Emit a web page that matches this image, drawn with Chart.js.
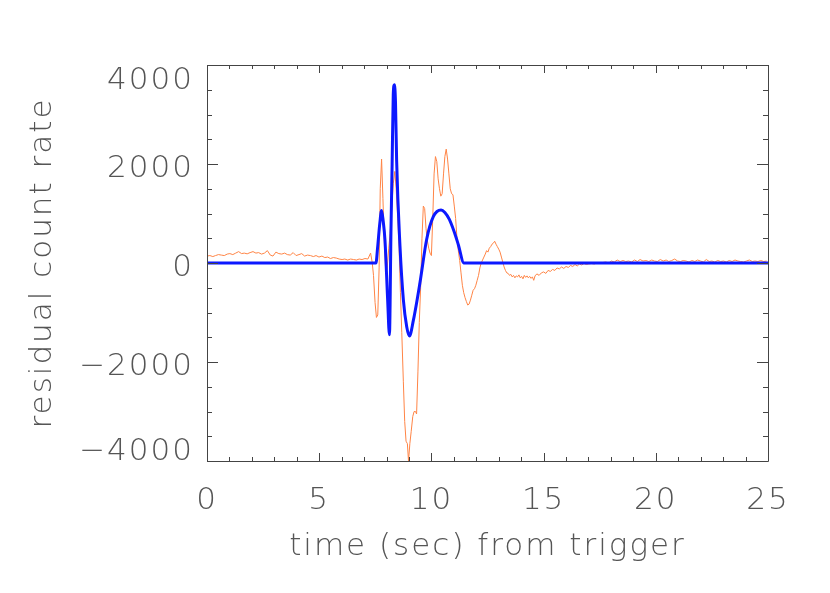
<!DOCTYPE html>
<html>
<head>
<meta charset="utf-8">
<script src="https://cdn.jsdelivr.net/npm/chart.js@4/dist/chart.umd.min.js"></script>
<style>
  body { margin: 0; background: #fff; }
  canvas { display: block; }
</style>
</head>
<body>
<canvas id="residuals" width="830" height="593"></canvas>
<script>
// measured residual count rate (orange)
const dataTime = [
  0.00, 0.13, 0.26, 0.38, 0.51, 0.64, 0.77, 0.90, 1.02, 1.15, 1.28, 1.41, 1.54, 1.66, 1.79, 1.92,
  2.05, 2.18, 2.30, 2.43, 2.56, 2.69, 2.82, 2.94, 3.07, 3.20, 3.33, 3.46, 3.58, 3.71, 3.84, 3.97,
  4.10, 4.22, 4.35, 4.48, 4.61, 4.74, 4.86, 4.99, 5.12, 5.25, 5.38, 5.50, 5.63, 5.76, 5.89, 6.02,
  6.14, 6.27, 6.40, 6.53, 6.66, 6.78, 6.91, 7.04, 7.17, 7.29, 7.36, 7.42, 7.49, 7.55, 7.61, 7.67,
  7.72, 7.78, 7.84, 7.91, 7.97, 8.03, 8.10, 8.16, 8.23, 8.30, 8.37, 8.43, 8.50, 8.56, 8.62, 8.68,
  8.75, 8.81, 8.87, 8.93, 8.98, 9.04, 9.10, 9.17, 9.23, 9.29, 9.34, 9.40, 9.46, 9.52, 9.58, 9.64,
  9.70, 9.76, 9.82, 9.88, 9.94, 10.00, 10.06, 10.12, 10.18, 10.24, 10.30, 10.36, 10.42, 10.48, 10.54, 10.60,
  10.66, 10.72, 10.78, 10.84, 10.90, 10.96, 11.02, 11.08, 11.14, 11.20, 11.26, 11.32, 11.38, 11.44, 11.50, 11.56,
  11.62, 11.68, 11.74, 11.80, 11.86, 11.92, 11.98, 12.04, 12.10, 12.16, 12.22, 12.28, 12.34, 12.40, 12.46, 12.52,
  12.58, 12.64, 12.70, 12.76, 12.82, 12.88, 12.94, 13.00, 13.06, 13.12, 13.18, 13.24, 13.30, 13.36, 13.42, 13.48,
  13.54, 13.60, 13.66, 13.72, 13.78, 13.84, 13.90, 13.96, 14.02, 14.08, 14.14, 14.20, 14.26, 14.32, 14.38, 14.44,
  14.50, 14.56, 14.62, 14.70, 14.80, 14.90, 15.00, 15.10, 15.20, 15.30, 15.40, 15.50, 15.60, 15.70, 15.80, 15.90,
  16.00, 16.10, 16.20, 16.30, 16.40, 16.50, 16.60, 16.70, 16.80, 16.90, 17.00, 17.13, 17.26, 17.38, 17.51, 17.64,
  17.77, 17.90, 18.02, 18.15, 18.28, 18.41, 18.54, 18.66, 18.79, 18.92, 19.05, 19.18, 19.30, 19.43, 19.56, 19.69,
  19.82, 19.94, 20.07, 20.20, 20.33, 20.46, 20.58, 20.71, 20.84, 20.97, 21.10, 21.22, 21.35, 21.48, 21.61, 21.74,
  21.86, 21.99, 22.12, 22.25, 22.38, 22.50, 22.63, 22.76, 22.89, 23.02, 23.14, 23.27, 23.40, 23.53, 23.66, 23.78,
  23.91, 24.04, 24.17, 24.30, 24.42, 24.55, 24.68, 24.81, 24.94
];
const dataRate = [
  140, 150, 130, 150, 170, 160, 150, 180, 190, 170, 200, 230, 190, 200, 185, 210,
  230, 200, 210, 180, 200, 250, 160, 140, 220, 190, 180, 200, 170, 160, 210, 150,
  170, 190, 140, 160, 150, 130, 150, 120, 140, 110, 120, 90, 110, 100, 80, 70,
  80, 60, 80, 70, 60, 80, 70, 90, 80, 200, 20, -250, -800, -1100, -1050, -100,
  1500, 2100, 1300, 300, -200, -100, 300, 600, 1100, 1600, 1850, 1500, 900, 300, -600, -1400,
  -2400, -3200, -3600, -3650, -4000, -3650, -3400, -3100, -3000, -3000, -3050, -2200, -1200, -500, 500, 1150,
  1100, 700, 450, 300, 200, 150, 900, 1800, 2150, 2050, 1700, 1500, 1350, 1400, 1800, 2150,
  2300, 2100, 1800, 1500, 1400, 1380, 1150, 900, 500, 250, 50, -200, -450, -600, -700, -780,
  -850, -830, -750, -650, -550, -520, -450, -350, -250, -100, 0, 60, 120, 180, 250, 220,
  300, 330, 380, 400, 440, 380, 330, 280, 220, 120, 20, -80, -150, -200, -210, -250,
  -230, -280, -250, -300, -260, -280, -240, -300, -270, -320, -250, -290, -260, -300, -270, -310,
  -280, -350, -260, -220, -250, -200, -180, -210, -150, -170, -130, -150, -100, -120, -80, -110,
  -70, -90, -50, -70, -30, -60, -20, -40, -10, -30, -20, -10, -20, 0, -10, 10,
  20, 0, 40, 20, 60, 30, 50, 30, 40, 20, 60, 30, 70, 40, 50, 30,
  60, 40, 30, 70, 40, 60, 30, 50, 80, 40, 30, 50, 40, 20, 50, 30,
  60, 40, 20, 70, 30, 40, 20, 50, 30, 40, 20, 50, 30, 60, 40, 30,
  20, 40, 60, 30, 40, 30, 50, 30, 40
];

// fitted pulse model (blue)
const modelTime = [
  0.00, 7.53, 7.60, 7.70, 7.78, 7.85, 7.93, 8.05, 8.13, 8.20, 8.25, 8.30, 8.35, 8.40, 8.45, 8.60,
  8.75, 8.90, 9.02, 9.20, 9.49, 9.79, 10.09, 10.43, 10.60, 10.80, 11.00, 11.20, 11.45, 25.00
];
const modelRate = [
  0, 0, 300, 800, 1060, 850, 470, -740, -1450, 700, 2000, 3400, 3600, 3250, 2080, 340,
  -740, -1290, -1475, -1150, -400, 480, 940, 1070, 1020, 880, 650, 370, 0, 0
];

const xMajor = [0, 5, 10, 15, 20, 25];
const yMajor = [-4000, -2000, 0, 2000, 4000];

const FONT = { family: 'DejaVu Sans', size: 31, weight: '200' };
const TEXT = '#555';
const AXIS = '#444';

const fmtY = (v) => (v < 0 ? '\u2212' + Math.abs(v) : String(v));

// IDL-style frame: box on all four sides, ticks pointing inward, y labels
const idlFrame = {
  id: 'idlFrame',
  beforeDraw(chart) {
    chart.ctx.letterSpacing = '2px';
  },
  afterDatasetsDraw(chart) {
    const { ctx, chartArea: a, scales: { x, y } } = chart;
    ctx.save();
    ctx.strokeStyle = AXIS;
    ctx.lineWidth = 1;
    ctx.beginPath();
    ctx.rect(a.left + 0.5, a.top + 0.5, a.right - a.left, a.bottom - a.top);
    x.ticks.forEach((t) => {
      const px = Math.round(x.getPixelForValue(t.value)) + 0.5;
      const len = xMajor.includes(t.value) ? 8 : 4;
      ctx.moveTo(px, a.bottom); ctx.lineTo(px, a.bottom - len);
      ctx.moveTo(px, a.top); ctx.lineTo(px, a.top + len);
    });
    y.ticks.forEach((t) => {
      const py = Math.round(y.getPixelForValue(t.value)) + 0.5;
      const len = yMajor.includes(t.value) ? 11 : 5;
      ctx.moveTo(a.left, py); ctx.lineTo(a.left + len, py);
      ctx.moveTo(a.right, py); ctx.lineTo(a.right - len, py);
    });
    ctx.stroke();

    ctx.fillStyle = TEXT;
    ctx.font = `${FONT.weight} ${FONT.size}px "${FONT.family}"`;
    ctx.textAlign = 'right';
    ctx.textBaseline = 'alphabetic';
    yMajor.forEach((v) => {
      const py = y.getPixelForValue(v);
      let dy = 13.4;
      if (v === y.max) dy = 23.6;
      if (v === y.min) dy = -1;
      ctx.fillText(fmtY(v), 194, py + dy);
    });
    ctx.restore();
  }
};

const ctx = document.getElementById('residuals').getContext('2d');
new Chart(ctx, {
  type: 'line',
  data: {
    datasets: [
      {
        label: 'model',
        data: modelTime.map((t, i) => ({ x: t, y: modelRate[i] })),
        borderColor: 'rgb(12,24,255)',
        borderWidth: 3,
        pointRadius: 0,
        cubicInterpolationMode: 'monotone',
        order: 0
      },
      {
        label: 'residuals',
        data: dataTime.map((t, i) => ({ x: t, y: dataRate[i] })),
        borderColor: '#ff8445',
        borderWidth: 1,
        pointRadius: 0,
        tension: 0,
        order: 1
      }
    ]
  },
  options: {
    responsive: false,
    animation: false,
    layout: { padding: { top: 65, right: 62, left: 0, bottom: 0 } },
    scales: {
      x: {
        type: 'linear',
        min: 0,
        max: 25,
        afterFit: (s) => { s.height = 132; },
        grid: { display: false, drawTicks: false },
        border: { display: false },
        ticks: {
          stepSize: 1,
          autoSkip: false,
          maxRotation: 0,
          padding: 21,
          color: TEXT,
          font: FONT,
          callback: (v) => (xMajor.includes(v) ? String(v) : '')
        },
        title: {
          display: true,
          text: 'time (sec) from trigger',
          color: TEXT,
          font: FONT,
          padding: { top: 0, bottom: 27 }
        }
      },
      y: {
        min: -4000,
        max: 4000,
        afterFit: (s) => { s.width = 207; },
        grid: { display: false, drawTicks: false },
        border: { display: false },
        ticks: { display: false, stepSize: 500 },
        title: {
          display: true,
          text: 'residual count rate',
          color: TEXT,
          font: FONT,
          padding: { top: 24, bottom: 0 }
        }
      }
    },
    plugins: {
      legend: { display: false },
      tooltip: { enabled: false }
    }
  },
  plugins: [idlFrame]
});
</script>
</body>
</html>
